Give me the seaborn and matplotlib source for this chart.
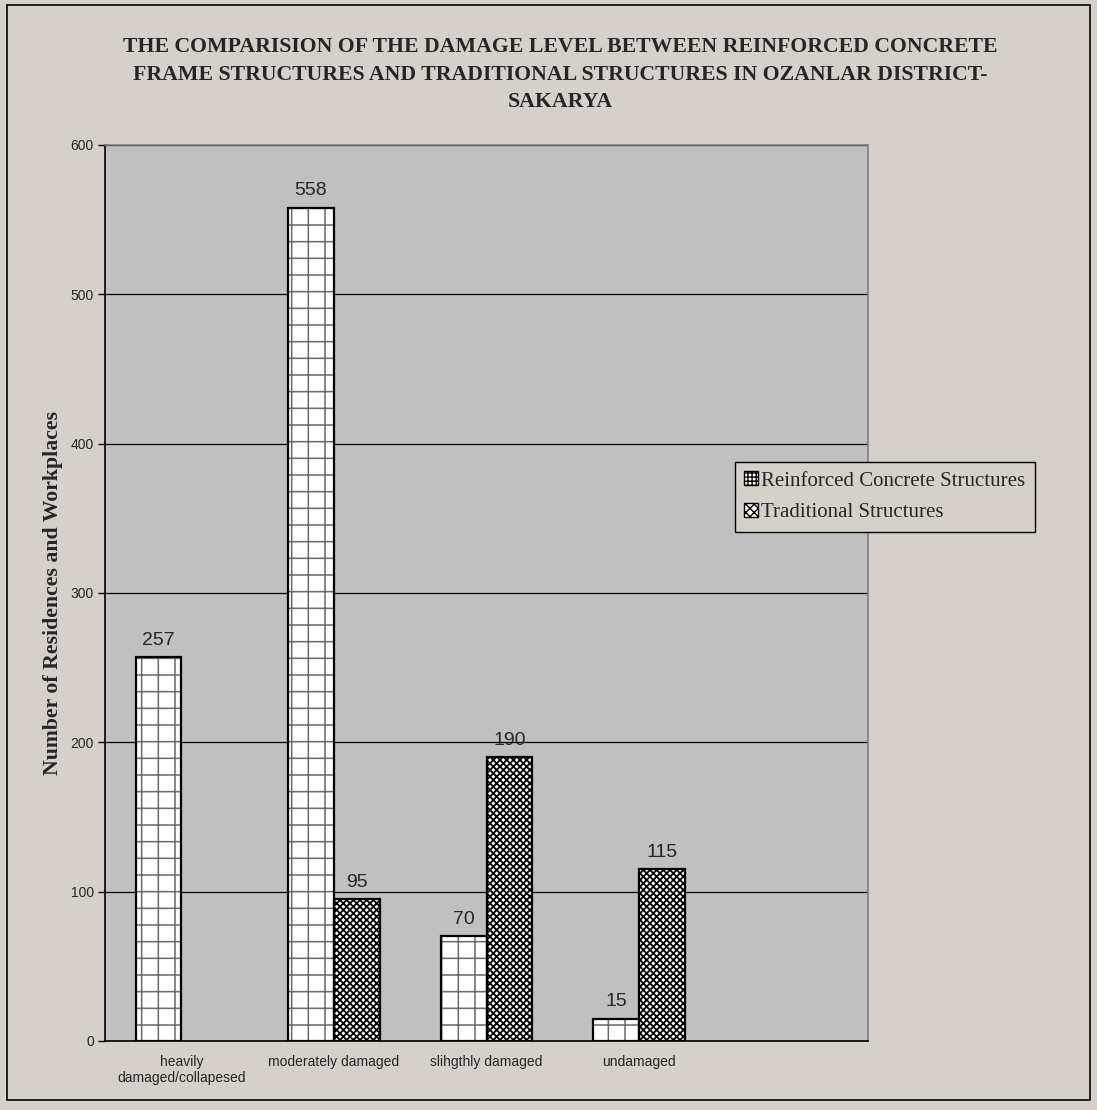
import matplotlib
matplotlib.use("Agg")
import matplotlib.pyplot as plt
import matplotlib.patches as mpatches
import numpy as np
import pandas as pd
import seaborn as sns

categories = ["heavily\ndamaged/collapesed", "moderately damaged", "slihgthly damaged", "undamaged", ""]
rc_cats = ["heavily\ndamaged/collapesed", "moderately damaged", "slihgthly damaged", "undamaged"]
rc_values = [257, 558, 70, 15]
trad_cats = ["moderately damaged", "slihgthly damaged", "undamaged"]
trad_values = [95, 190, 115]
series = ["Reinforced Concrete Structures", "Traditional Structures"]
yticks = [0, 100, 200, 300, 400, 500, 600]
title = ("THE COMPARISION OF THE DAMAGE LEVEL BETWEEN REINFORCED CONCRETE\n"
         "FRAME STRUCTURES AND TRADITIONAL STRUCTURES IN OZANLAR DISTRICT-\n"
         "SAKARYA")
ylabel = "Number of Residences and Workplaces"

df = pd.DataFrame({
    "damage": rc_cats + trad_cats,
    "count": rc_values + trad_values,
    "type": [series[0]] * len(rc_cats) + [series[1]] * len(trad_cats),
})

BG = "#d6d0cb"
PLOT = "#c0c0c0"
SERIF = "Liberation Serif"
SANS = "Liberation Sans"

sns.set_style("white")
plt.rcParams["font.family"] = [SANS, "DejaVu Sans"]
plt.rcParams["hatch.linewidth"] = 1.0

fig = plt.figure(figsize=(10.97, 11.10), dpi=100, facecolor=BG)
ax = fig.add_axes([105/1097, 1-1041/1110, 763/1097, 896/1110])
ax.set_facecolor(PLOT)

sns.barplot(data=df, x="damage", y="count", hue="type", order=categories,
            hue_order=series, width=0.6, palette=["white", "white"],
            edgecolor="black", linewidth=1.5, errorbar=None, legend=False,
            saturation=1, ax=ax, zorder=3)

hatches = ["+", "xxxxx"]
hcolors = ["#6a6a6a", "black"]
for cont, h, hc in zip(ax.containers, hatches, hcolors):
    for p in cont.patches:
        p.set_hatch(h)
        p.set_edgecolor(hc)
        p.set_linewidth(0)
        if hasattr(p, "set_hatch_linewidth"):
            p.set_hatch_linewidth(1.1 if h == "+" else 1.3)
        outline = mpatches.Rectangle(p.get_xy(), p.get_width(), p.get_height(),
                                     fill=False, edgecolor="black", linewidth=1.6, zorder=4)
        ax.add_patch(outline)
    ax.bar_label(cont, fmt="%g", padding=6, fontsize=14, family=SANS)

ax.set_xlim(-0.5, 4.5)
ax.set_ylim(0, 600)
ax.set_yticks(yticks)
ax.set_yticklabels([str(v) for v in yticks], fontsize=10)
ax.yaxis.grid(True, color="black", linewidth=0.9, zorder=0)
ax.set_axisbelow(True)

ax.set_xticks(range(len(categories)))
ax.set_xticklabels(categories, fontsize=10)
ax.set_xticks(np.arange(-0.5, len(categories), 1.0), minor=True)
ax.tick_params(axis="x", which="major", length=0, pad=10)
ax.tick_params(axis="x", which="minor", length=5, width=1, direction="out", color="black")
ax.tick_params(axis="y", length=5, width=1, direction="out", color="black", left=True, pad=3)

for s in ["left", "bottom"]:
    ax.spines[s].set_color("black")
    ax.spines[s].set_linewidth(1.2)
for s in ["top", "right"]:
    ax.spines[s].set_color("#808080")
    ax.spines[s].set_linewidth(1.2)

ax.set_xlabel("")
ax.set_ylabel(ylabel, fontsize=15.7, fontweight="bold", family=SERIF)
ax.yaxis.set_label_coords(-0.055, 0.5)

fig.text(560/1097, 1-37/1110, title, ha="center", va="top", fontsize=15.7,
         fontweight="bold", family=SERIF, linespacing=1.5)

handles = [mpatches.Patch(facecolor="white", edgecolor="black", hatch="++++", label=series[0]),
           mpatches.Patch(facecolor="white", edgecolor="black", hatch="xxxx", label=series[1])]
leg = fig.legend(handles=handles, loc="upper left", bbox_to_anchor=(735/1097, 1-462/1110),
                 bbox_transform=fig.transFigure, frameon=True, fancybox=False, shadow=False,
                 facecolor=BG, edgecolor="black", framealpha=1,
                 prop={"family": SERIF, "size": 15}, handlelength=0.65, handleheight=0.65,
                 handletextpad=0.15, borderpad=0.45, labelspacing=0.6, borderaxespad=0)
leg.get_frame().set_linewidth(1.0)

fig.add_artist(mpatches.Rectangle((7/1097, 1-1100/1110), 1083/1097, 1095/1110,
                                  transform=fig.transFigure, fill=False,
                                  edgecolor="black", linewidth=1.2))

fig.savefig("out.png", dpi=100, facecolor=BG)
